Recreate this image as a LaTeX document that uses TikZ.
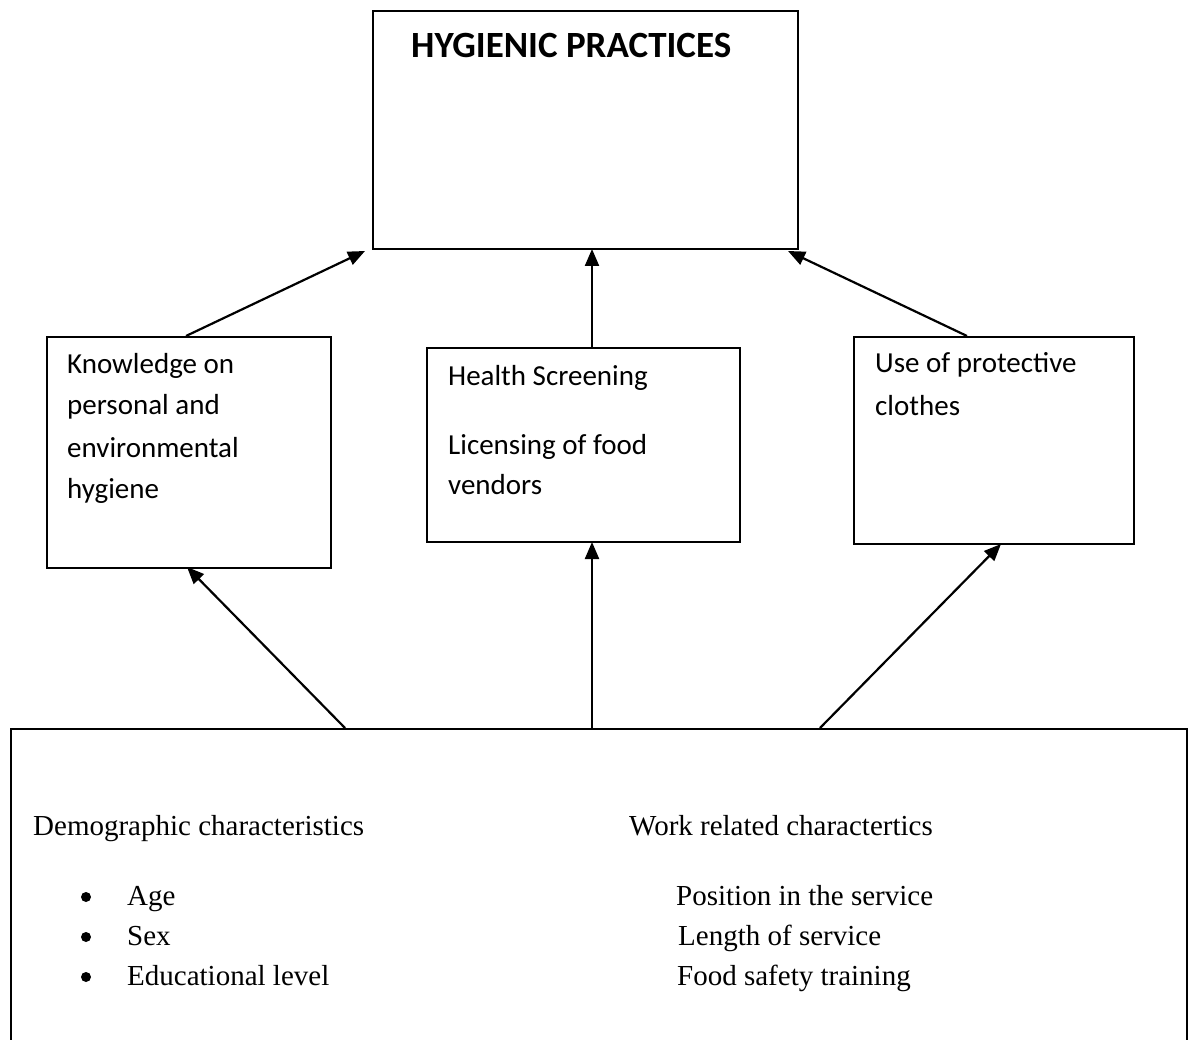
\documentclass[tikz,border=0pt]{standalone}
\usepackage{fontspec}
\usetikzlibrary{arrows.meta}
\newfontfamily\carlito{Carlito}
\newfontfamily\lserif{Liberation Serif}
\begin{document}
\begin{tikzpicture}[x=1pt,y={(0pt,-1pt)},
  box/.style={draw=black,line width=1.6pt,rectangle,inner sep=0pt,anchor=north west},
  boxtxt/.style={anchor=base west,inner sep=0pt,font=\carlito\fontsize{29}{34}\selectfont},
  sertxt/.style={anchor=base west,inner sep=0pt,font=\lserif\fontsize{29}{34}\selectfont},
  bul/.style={circle,fill=black,inner sep=0pt,minimum size=10pt},
  arr/.style={line width=2.2pt,-{Triangle[length=17pt,width=14pt]}}]
\clip (0,0) rectangle (1189,1040);
\fill[white] (0,0) rectangle (1189,1040);
% boxes
\node[box,minimum width=425pt,minimum height=238pt] (hp) at (372,10) {};
\node[box,minimum width=284pt,minimum height=231pt] (kn) at (46,336) {};
\node[box,minimum width=313pt,minimum height=194pt] (hs) at (426,347) {};
\node[box,minimum width=280pt,minimum height=207pt] (pc) at (853,336) {};
\node[box,minimum width=1176pt,minimum height=360pt] (dc) at (10,728) {};
% texts
\node[anchor=base west,inner sep=0pt,font=\carlito\bfseries\fontsize{37}{42}\selectfont] (t0) at (411,58) {HYGIENIC PRACTICES};
\node[boxtxt] (k1) at (67,374) {Knowledge on};
\node[boxtxt] (k2) at (67,415) {personal and};
\node[boxtxt] (k3) at (67,457) {environmental};
\node[boxtxt] (k4) at (67,498) {hygiene};
\node[boxtxt] (h1) at (448,386) {Health Screening};
\node[boxtxt] (h2) at (448,454) {Licensing of food};
\node[boxtxt] (h3) at (448,494) {vendors};
\node[boxtxt] (p1) at (875,373) {Use of protective};
\node[boxtxt] (p2) at (875,416) {clothes};
\node[sertxt] (d0) at (33,835) {Demographic characteristics};
\node[bul] (b1) at (86,897) {};
\node[bul] (b2) at (86,937) {};
\node[bul] (b3) at (86,977) {};
\node[sertxt] (d1) at (127,905) {Age};
\node[sertxt] (d2) at (127,945) {Sex};
\node[sertxt] (d3) at (127,985) {Educational level};
\node[sertxt] (w0) at (629,835) {Work related charactertics};
\node[sertxt] (w1) at (676,905) {Position in the service};
\node[sertxt] (w2) at (678,945) {Length of service};
\node[sertxt] (w3) at (677,985) {Food safety training};
% connector end points
\coordinate (hpL) at (365,251);
\coordinate (hpM) at (592,249);
\coordinate (hpR) at (788,251);
\coordinate (knT) at (186,336);
\coordinate (hsT) at (592,347);
\coordinate (pcT) at (967,336);
\coordinate (knB) at (187,567);
\coordinate (hsB) at (592,542);
\coordinate (pcB) at (1001,544);
\coordinate (dcL) at (345,728);
\coordinate (dcM) at (592,728);
\coordinate (dcR) at (820,728);
% connectors
\draw[arr] (knT) -- (hpL);
\draw[arr] (hsT) -- (hpM);
\draw[arr] (pcT) -- (hpR);
\draw[arr] (dcL) -- (knB);
\draw[arr] (dcM) -- (hsB);
\draw[arr] (dcR) -- (pcB);
\end{tikzpicture}
\end{document}
